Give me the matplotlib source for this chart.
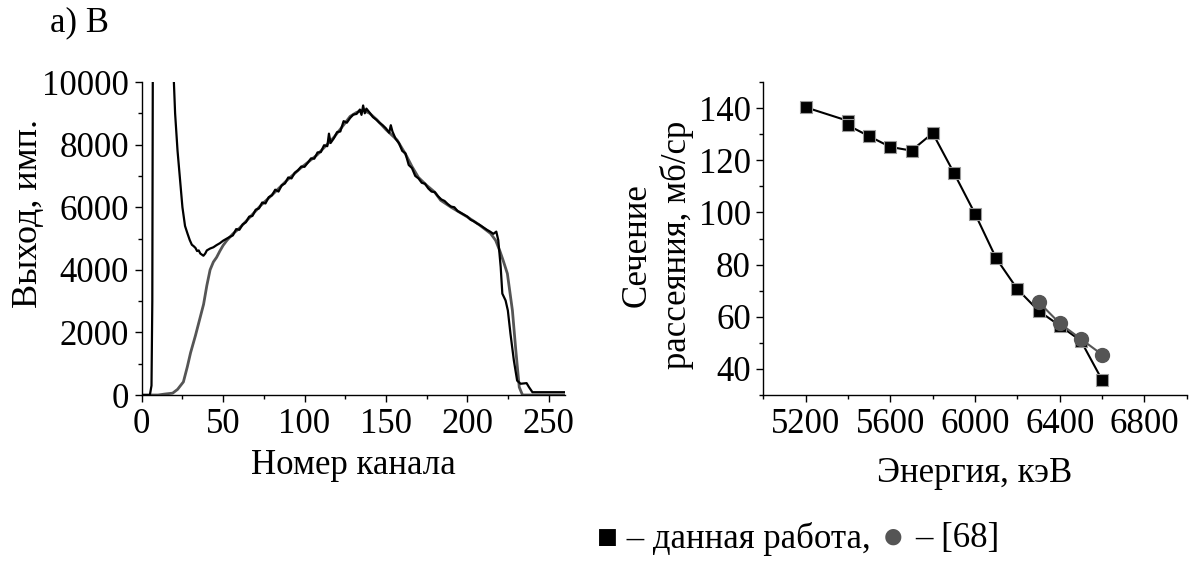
import matplotlib
matplotlib.use('Agg')
import matplotlib.pyplot as plt
from matplotlib.ticker import MultipleLocator
from matplotlib.offsetbox import TextArea, HPacker, AnchoredOffsetbox

plt.rcParams['font.family'] = ['Liberation Serif', 'DejaVu Serif']
plt.rcParams['font.size'] = 25
plt.rcParams['axes.linewidth'] = 1.0

# --- left panel: spectrum (channel, counts) ---
exp_ch = [0, 5, 6, 6.5, 7.2, 19, 20.5, 22, 23.6, 25, 26.6, 28.1, 29.5, 30.8, 31.8,
          33, 34, 35, 36, 37.9, 39, 40, 42, 44, 46, 48, 50, 52.3,
          54, 56, 58, 60, 62, 64, 66, 68, 70, 72, 74, 76, 78, 80, 82, 84, 86, 88,
          90, 92, 94, 96, 98, 100, 102, 104, 106, 108, 110, 112, 114, 115, 116,
          118, 120, 122, 124, 126, 128, 130, 132, 134, 135, 136, 137, 138, 140,
          142, 144, 146, 148, 150, 152, 153, 154, 156, 158, 160, 162, 164, 166,
          168, 170, 172, 174, 176, 178, 180, 182, 184, 186, 188, 190, 192, 194,
          196, 198, 200, 202, 204, 206, 208, 210, 212, 214, 216, 217.8, 219,
          220.5, 221.5, 223.5, 224.9, 226.5, 228.6, 230.6, 232.7, 236.4, 237.9,
          240, 260]
exp_cnt = [0, 0, 300, 3000, 20000, 11000, 9000, 7800, 6860, 6000, 5400, 5160, 4950, 4800, 4760,
           4700, 4600, 4620, 4520, 4450, 4520, 4620, 4680, 4720, 4790, 4850, 4930, 5000,
           5050, 5100, 5300, 5280, 5450, 5520, 5700, 5720, 5920, 5960, 6150, 6120,
           6320, 6380, 6560, 6500, 6700, 6760, 6950, 6920, 7100, 7180, 7300, 7290,
           7420, 7560, 7550, 7750, 7760, 7980, 7950, 8350, 8050, 8200, 8400, 8420,
           8750, 8700, 8850, 8960, 8980, 9120, 8950, 9250, 9000, 9150, 9020, 8880,
           8800, 8700, 8620, 8520, 8380, 8620, 8420, 8180, 8050, 7800, 7720, 7350,
           7250, 7000, 6920, 6780, 6750, 6600, 6500, 6480, 6350, 6250, 6200, 6100,
           6020, 6000, 5880, 5820, 5760, 5700, 5600, 5550, 5480, 5420, 5350, 5280,
           5220, 5150, 5220, 4950, 4090, 3240, 3020, 2700, 1960, 1100, 460, 360,
           380, 250, 90, 90]

sim_ch = [0, 10, 14, 19, 22, 25.6, 28, 30, 33, 36, 38, 40, 42, 44, 46, 48, 50,
          52.3, 56, 60, 66.6, 73, 81, 89, 97.5, 107.7, 118, 123, 128, 132, 136,
          140, 144.5, 150, 156.8, 162, 166, 170, 175, 180, 183.6, 190, 200, 207,
          214.3, 217.4, 220, 222, 224.6, 227.7, 229.8, 231.9, 233.9, 260]
sim_cnt = [0, 0, 30, 60, 180, 420, 900, 1350, 1900, 2500, 2900, 3500, 4000, 4250,
           4400, 4600, 4780, 4940, 5150, 5330, 5690, 6050, 6440, 6850, 7245, 7670,
           8230, 8560, 8900, 9030, 9100, 9000, 8790, 8480, 8150, 7700, 7300, 6950,
           6700, 6480, 6222, 6000, 5690, 5450, 5160, 4940, 4600, 4300, 3880, 2700,
           1420, 250, 0, 0]

# --- right panel: cross section vs energy ---
e_this = [5200, 5400, 5400, 5500, 5600, 5700, 5800, 5900, 6000, 6100, 6200, 6300,
          6400, 6500, 6600]
sig_this = [140.3, 135.1, 133.4, 129.2, 125.1, 123.7, 130.4, 115.2, 99.5, 82.4,
            70.6, 62.3, 56.6, 50.8, 35.8]
e_ref = [6300, 6400, 6500, 6600]
sig_ref = [65.7, 57.5, 51.5, 45.5]

grey = '#555555'

fig = plt.figure(figsize=(11.94, 5.64), dpi=100)
ax1 = fig.add_axes([0.1187, 0.2996, 0.3545, 0.555])
ax2 = fig.add_axes([0.6393, 0.2996, 0.3546, 0.555])

ax1.plot(sim_ch, sim_cnt, color=grey, lw=2.0, zorder=2)
ax1.plot(exp_ch, exp_cnt, color='black', lw=1.6, zorder=3)
ax1.set_xlim(0, 260)
ax1.set_ylim(0, 10000)
ax1.xaxis.set_major_locator(MultipleLocator(50))
ax1.xaxis.set_minor_locator(MultipleLocator(25))
ax1.yaxis.set_major_locator(MultipleLocator(2000))
ax1.yaxis.set_minor_locator(MultipleLocator(1000))
ax1.set_xlabel('Номер канала', va='center')
ax1.set_ylabel('Выход, имп.', va='center', fontsize=26)
ax1.xaxis.set_label_coords(0.5, -0.225)
ax1.yaxis.set_label_coords(-0.268, 0.58)

ax2.plot(e_this, sig_this, color='black', lw=1.5, marker='s', ms=9,
         mfc='black', mec='#999999', mew=0.8, zorder=3)
ax2.plot(e_ref, sig_ref, color=grey, lw=1.5, marker='o', ms=10,
         mfc=grey, mec=grey, zorder=4)
ax2.set_xlim(5000, 7000)
ax2.set_ylim(30, 150)
ax2.set_xticks([5200, 5600, 6000, 6400, 6800])
ax2.set_xticks([5000, 5400, 5800, 6200, 6600, 7000], minor=True)
ax2.set_yticks([40, 60, 80, 100, 120, 140])
ax2.yaxis.set_minor_locator(MultipleLocator(10))
ax2.set_xlabel('Энергия, кэВ', va='center')
ax2.set_ylabel('Сечение\nрассеяния, мб/ср', linespacing=1.25, va='center')
ax2.xaxis.set_label_coords(0.5, -0.252)
ax2.yaxis.set_label_coords(-0.25, 0.48)

for ax in (ax1, ax2):
    for s in ('top', 'right'):
        ax.spines[s].set_visible(False)
    ax.tick_params(which='major', direction='out', length=5, width=1.0, pad=4)
    ax.tick_params(which='minor', direction='out', length=3, width=1.0)

fig.text(0.042, 0.96, 'а) В', ha='left', va='center', fontsize=25)

parts = [TextArea('■ – данная работа,', textprops=dict(size=25, color='black')),
         TextArea('●', textprops=dict(size=27, color=grey)),
         TextArea('– [68]', textprops=dict(size=25, color='black'))]
box = HPacker(children=parts, align='center', pad=0, sep=8)
anchored = AnchoredOffsetbox(loc='center left', child=box, frameon=False,
                             bbox_to_anchor=(0.50, 0.045),
                             bbox_transform=fig.transFigure, borderpad=0, pad=0)
fig.add_artist(anchored)

fig.savefig('out.png', dpi=100)
